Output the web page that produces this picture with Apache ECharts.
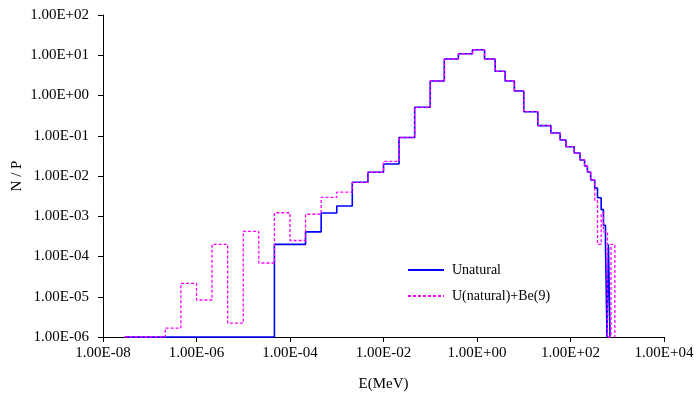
<!DOCTYPE html>
<html>
<head>
<meta charset="utf-8">
<script src="https://cdn.jsdelivr.net/npm/echarts@6/dist/echarts.min.js"></script>
<style>html,body{margin:0;padding:0;background:#fff}#c{width:697px;height:400px}</style>
</head>
<body>
<div id="c"></div>
<script>
// Bin edges (MeV) and values (N/P)
const unatEdges = [2.9e-8, 4.64e-5, 1e-4, 2.15e-4, 4.64e-4, 1e-3, 2.15e-3, 4.64e-3, 1e-2, 2.15e-2, 4.64e-2, 0.1, 0.2, 0.4, 0.8, 1.45, 2.45, 4, 6.3, 10, 20, 38, 60, 80, 120, 160, 200, 230, 270, 330, 378, 453, 507, 560, 603, 649, 700];
const unatValues = [1e-6, 2.0e-4, 2.0e-4, 4.1e-4, 1.2e-3, 1.8e-3, 7.0e-3, 1.24e-2, 1.99e-2, 9.06e-2, 0.509, 2.29, 8.07, 10.9, 13.7, 8.07, 3.99, 2.29, 1.29, 0.396, 0.178, 0.117, 0.0783, 0.0535, 0.0373, 0.025, 0.0177, 0.0126, 7.96e-3, 5.04e-3, 2.89e-3, 1.46e-3, 6e-4, 2e-4, 1e-6, 2e-4];

const ubeEdges = [2.9e-8, 2.15e-7, 4.64e-7, 1e-6, 2.15e-6, 4.64e-6, 1e-5, 2.15e-5, 4.64e-5, 1e-4, 2.15e-4, 4.64e-4, 1e-3, 2.15e-3, 4.64e-3, 1e-2, 2.15e-2, 4.64e-2, 0.1, 0.2, 0.4, 0.8, 1.45, 2.45, 4, 6.3, 10, 20, 38, 60, 80, 120, 160, 200, 230, 270, 330, 378, 453, 507, 618, 735, 887];
const ubeValues = [1e-6, 1.67e-6, 2.15e-5, 8.3e-6, 2.0e-4, 2.2e-6, 4.2e-4, 6.9e-5, 1.22e-3, 2.5e-4, 1.12e-3, 2.95e-3, 3.96e-3, 6.97e-3, 1.24e-2, 2.32e-2, 9.06e-2, 0.509, 2.29, 8.07, 10.9, 13.7, 8.07, 3.99, 2.29, 1.29, 0.396, 0.178, 0.117, 0.0783, 0.0535, 0.0373, 0.025, 0.0177, 0.0126, 7.96e-3, 2.5e-3, 2e-4, 1.2e-3, 4.1e-4, 1e-6, 2e-4];

const seriesNames = ['Unatural', 'U(natural)+Be(9)'];
const floorValue = 1e-6;

function stepData(edges, values) {
  const d = [];
  for (let i = 0; i < values.length; i++) d.push([edges[i], values[i]]);
  d.push([edges[edges.length - 1], floorValue]);
  return d;
}
function fmt(v) {
  const e = Math.round(Math.log10(v));
  return '1.00E' + (e < 0 ? '-' : '+') + String(Math.abs(e)).padStart(2, '0');
}
const FONT = '"Liberation Serif", "Times New Roman", serif';

const chart = echarts.init(document.getElementById('c'), null, {renderer: 'canvas'});
chart.setOption({
  animation: false,
  backgroundColor: '#fff',
  textStyle: {fontFamily: FONT, color: '#000'},
  grid: {left: 103, right: 33, top: 15, bottom: 63, containLabel: false, outerBoundsMode: 'none'},
  legend: {
    orient: 'vertical', left: 402, top: 258, itemWidth: 36, itemHeight: 10, itemGap: 12,
    itemStyle: {opacity: 0},
    textStyle: {fontFamily: FONT, fontSize: 14, color: '#000', padding: [0, 0, 0, 3]},
    data: seriesNames
  },
  xAxis: {
    type: 'log', logBase: 10, min: 1e-8, max: 1e4, interval: 2,
    name: 'E(MeV)', nameLocation: 'middle', nameGap: 40, nameMoveOverlap: false,
    nameTextStyle: {fontFamily: FONT, fontSize: 15, color: '#000'},
    axisLine: {lineStyle: {color: '#000', width: 1}},
    axisTick: {show: true, length: 5, lineStyle: {color: '#000'}},
    minorTick: {show: false},
    splitLine: {show: false},
    axisLabel: {formatter: fmt, fontFamily: FONT, fontSize: 15, color: '#000', margin: 9, showMinLabel: true, showMaxLabel: true}
  },
  yAxis: {
    type: 'log', logBase: 10, min: 1e-6, max: 100, interval: 1,
    name: 'N / P', nameLocation: 'middle', nameGap: 78, nameRotate: 90, nameMoveOverlap: false,
    nameTextStyle: {fontFamily: FONT, fontSize: 15, color: '#000'},
    axisLine: {show: true, lineStyle: {color: '#000', width: 1}},
    axisTick: {show: true, length: 5, lineStyle: {color: '#000'}},
    minorTick: {show: false},
    splitLine: {show: false},
    axisLabel: {formatter: fmt, fontFamily: FONT, fontSize: 15, color: '#000', margin: 14}
  },
  series: [
    {
      name: seriesNames[0], type: 'line', step: 'end', symbol: 'none', clip: false,
      data: stepData(unatEdges, unatValues),
      lineStyle: {color: '#0000ff', width: 1.6},
      itemStyle: {color: '#0000ff'}
    },
    {
      name: seriesNames[1], type: 'line', step: 'end', symbol: 'none', clip: false,
      data: stepData(ubeEdges, ubeValues),
      lineStyle: {color: '#ff00ff', width: 1.3, type: [3, 2]},
      itemStyle: {color: '#ff00ff'}
    }
  ]
});
</script>
</body>
</html>
